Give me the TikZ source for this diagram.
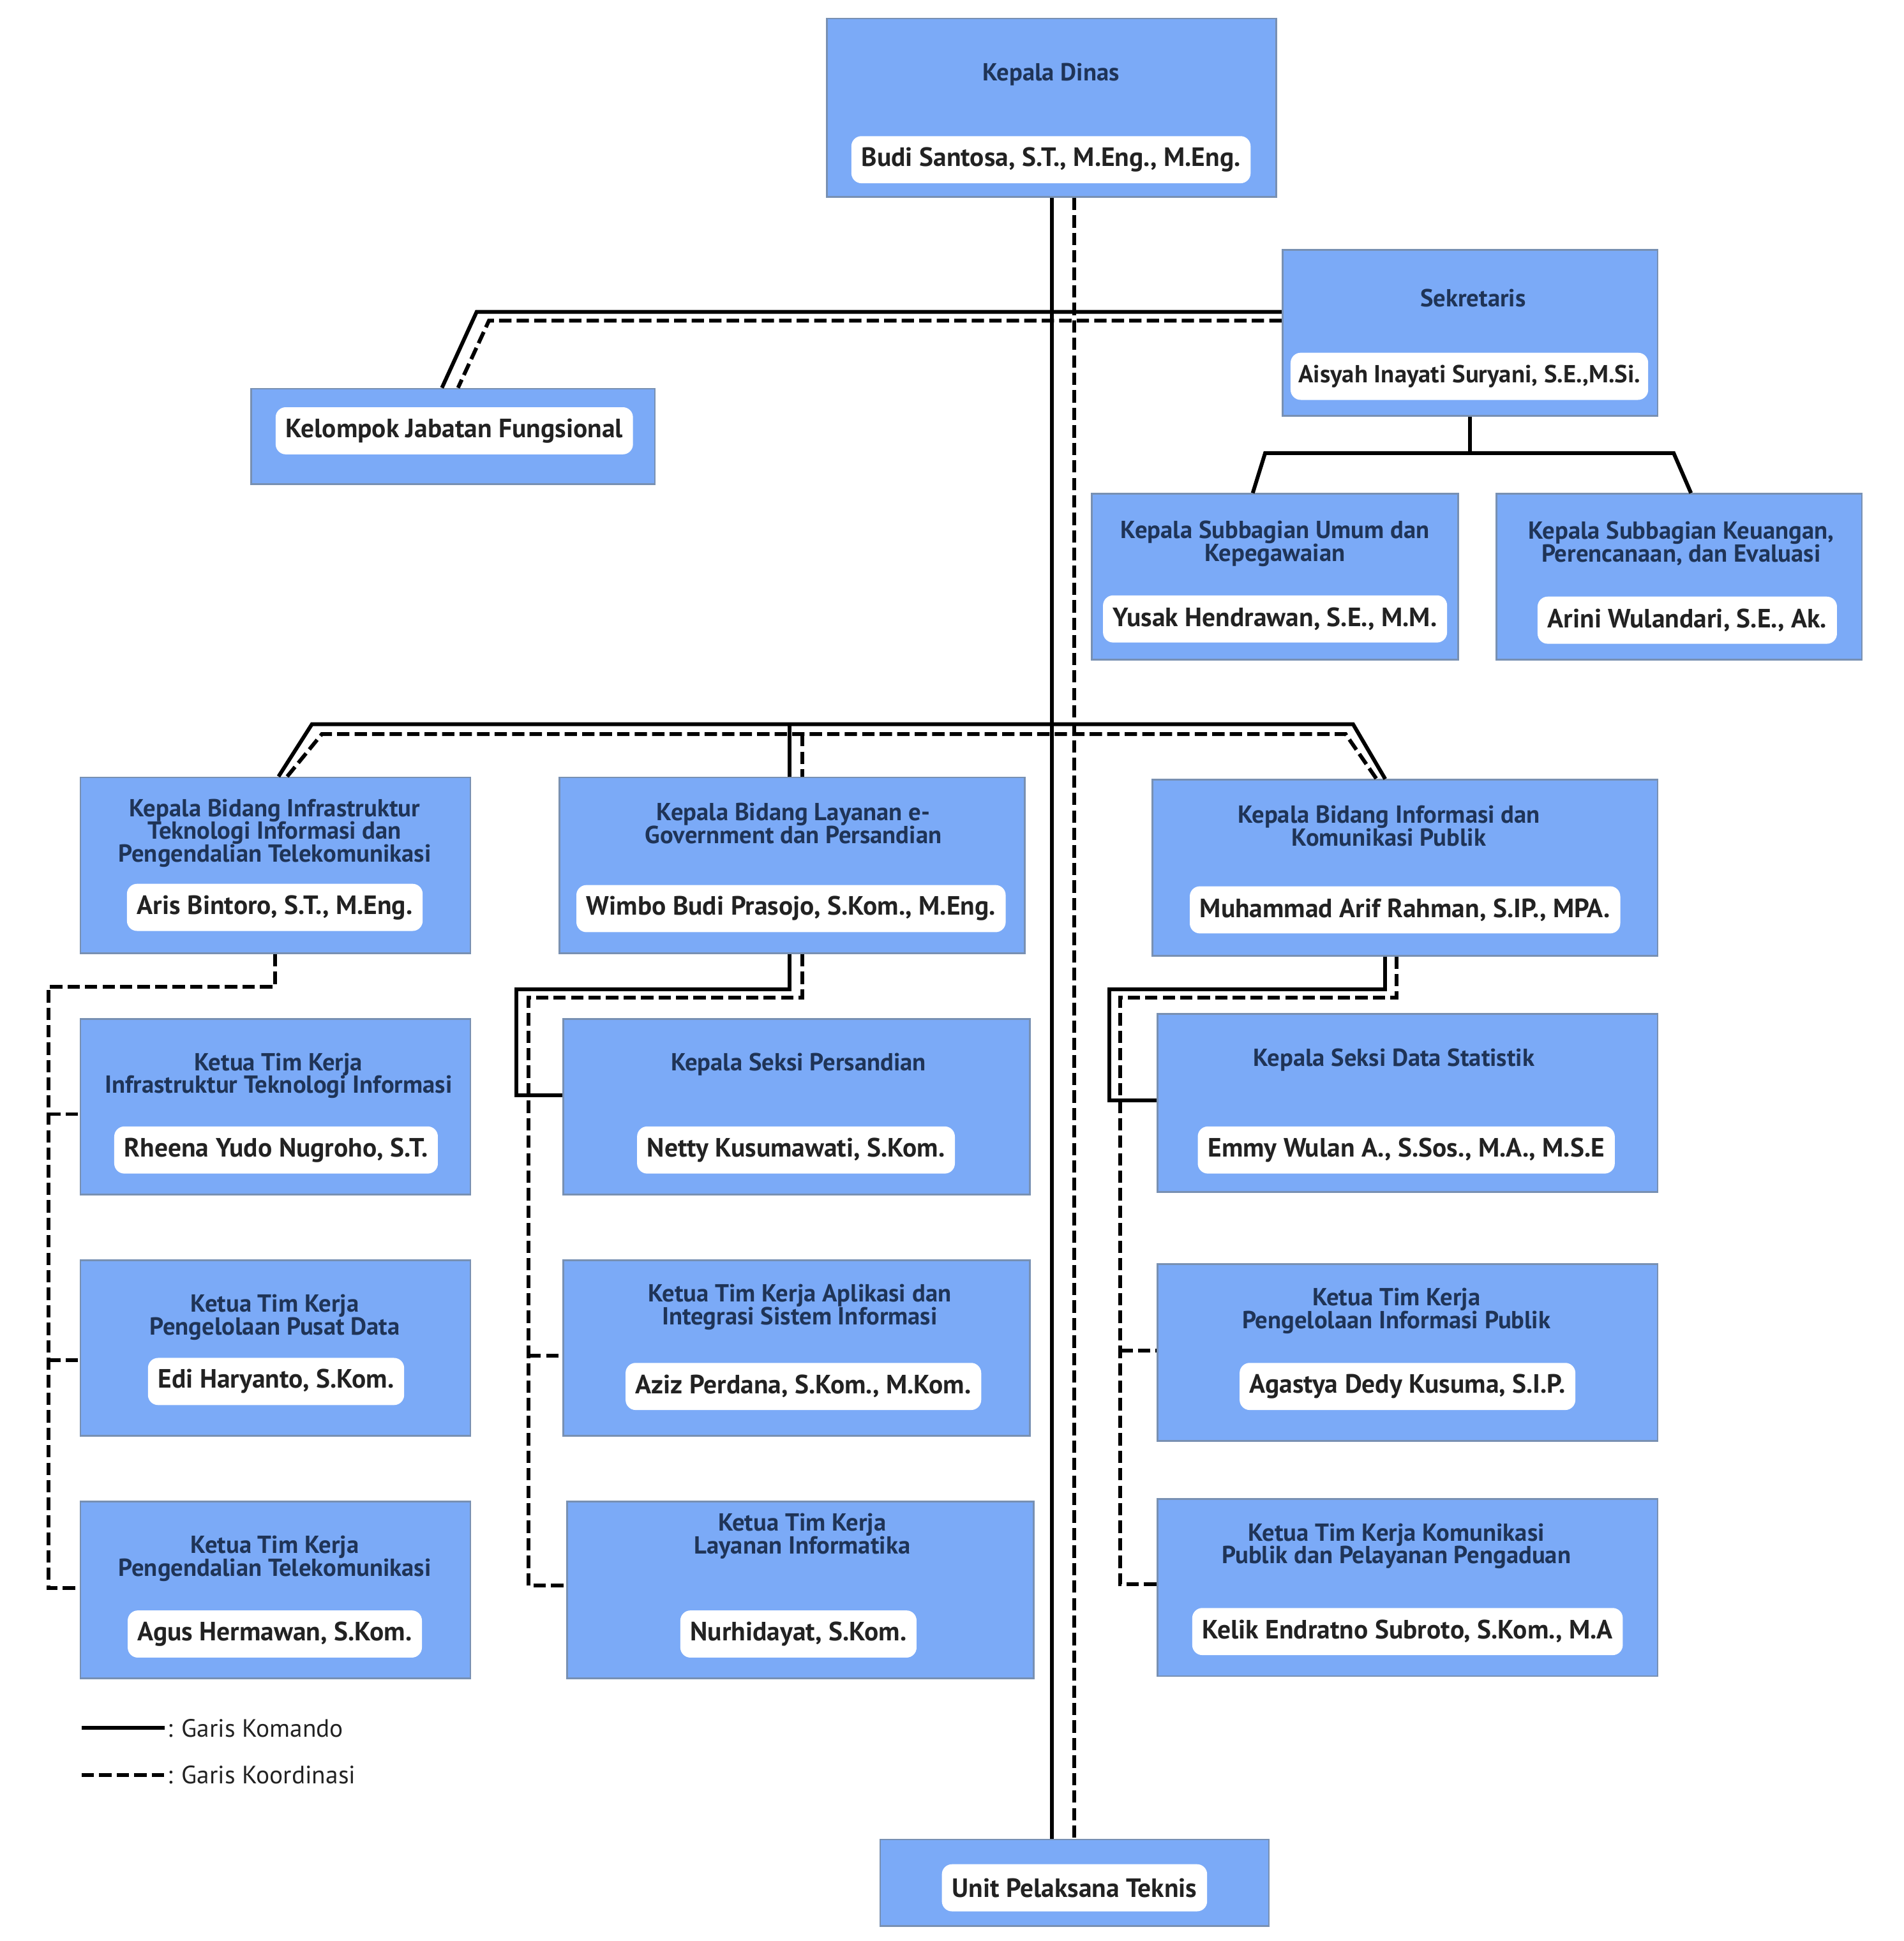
\documentclass[tikz,border=0pt]{standalone}
\usepackage{fontspec}
\setmainfont{PT Sans}
\usepackage{tikz}
\usetikzlibrary{positioning, fit}
\definecolor{kotak}{HTML}{7BAAF7}
\definecolor{tepi}{HTML}{7890B2}
\definecolor{judul}{HTML}{1F3457}
\definecolor{nama}{HTML}{222222}

\begin{document}
\begin{tikzpicture}[x=0.1939mm, y=-0.1939mm,
        kotakjab/.style={draw=tepi, line width=0.8pt, fill=kotak, inner sep=0pt},
        judulteks/.style={text=judul, font=\fontsize{11}{10.2}\selectfont\bfseries, align=center, inner sep=0pt},
        namateks/.style={fill=white, rounded corners=4.5pt, text=nama, font=\fontsize{11.8}{13}\selectfont\bfseries, inner xsep=4.5pt, minimum height=21pt},
        ketlegenda/.style={text=nama, font=\fontsize{11.2}{12}\selectfont, inner sep=1pt},
        komando/.style={line width=1.7pt},
        koordinasi/.style={line width=1.7pt, dash pattern=on 5.5pt off 2.3pt}]
        \useasboundingbox (0,0) rectangle (1538,1568);

        % kotak jabatan
        \node[kotakjab, fit={(668,15) (1031,159)}] (kd) {};
        \node[kotakjab, fit={(1036,202) (1339,336)}] (sek) {};
        \node[kotakjab, fit={(203,314) (529,391)}] (kjf) {};
        \node[kotakjab, fit={(882,399) (1178,533)}] (subUmum) {};
        \node[kotakjab, fit={(1209,399) (1504,533)}] (subKeu) {};
        \node[kotakjab, fit={(65,628) (380,770)}] (bidInfra) {};
        \node[kotakjab, fit={(452,628) (828,770)}] (bidLayanan) {};
        \node[kotakjab, fit={(931,630) (1339,772)}] (bidIkp) {};
        \node[kotakjab, fit={(65,823) (380,965)}] (timInfra) {};
        \node[kotakjab, fit={(455,823) (832,965)}] (seksiSandi) {};
        \node[kotakjab, fit={(935,819) (1339,963)}] (seksiStat) {};
        \node[kotakjab, fit={(65,1018) (380,1160)}] (timPusat) {};
        \node[kotakjab, fit={(455,1018) (832,1160)}] (timApl) {};
        \node[kotakjab, fit={(935,1021) (1339,1164)}] (timIkp) {};
        \node[kotakjab, fit={(65,1213) (380,1356)}] (timTelko) {};
        \node[kotakjab, fit={(458,1213) (835,1356)}] (timLayanan) {};
        \node[kotakjab, fit={(935,1211) (1339,1354)}] (timKom) {};
        \node[kotakjab, fit={(711,1486) (1025,1556)}] (upt) {};

        % judul jabatan
        \node[judulteks] (kdJ) at (849,60) {Kepala Dinas};
        \node[judulteks] (sekJ) at (1190,241) {Sekretaris};
        \node[judulteks] (subUmumJ) at (1030,439) {Kepala Subbagian Umum dan\\Kepegawaian};
        \node[judulteks] (subKeuJ) at (1358,439) {Kepala Subbagian Keuangan,\\Perencanaan, dan Evaluasi};
        \node[judulteks] (bidInfraJ) at (222,673) {Kepala Bidang Infrastruktur\\Teknologi Informasi dan\\Pengendalian Telekomunikasi};
        \node[judulteks] (bidLayananJ) at (641,665) {Kepala Bidang Layanan e-\\Government dan Persandian};
        \node[judulteks] (bidIkpJ) at (1122,667) {Kepala Bidang Informasi dan\\Komunikasi Publik};
        \node[judulteks] (timInfraJ) at (225,869) {Ketua Tim Kerja\\Infrastruktur Teknologi Informasi};
        \node[judulteks] (seksiSandiJ) at (645,860) {Kepala Seksi Persandian};
        \node[judulteks] (seksiStatJ) at (1126,856) {Kepala Seksi Data Statistik};
        \node[judulteks] (timPusatJ) at (222,1064) {Ketua Tim Kerja\\Pengelolaan Pusat Data};
        \node[judulteks] (timAplJ) at (646,1056) {Ketua Tim Kerja Aplikasi dan\\Integrasi Sistem Informasi};
        \node[judulteks] (timIkpJ) at (1128,1059) {Ketua Tim Kerja\\Pengelolaan Informasi Publik};
        \node[judulteks] (timTelkoJ) at (222,1259) {Ketua Tim Kerja\\Pengendalian Telekomunikasi};
        \node[judulteks] (timLayananJ) at (648,1241) {Ketua Tim Kerja\\Layanan Informatika};
        \node[judulteks] (timKomJ) at (1128,1249) {Ketua Tim Kerja Komunikasi\\Publik dan Pelayanan Pengaduan};

        % nama pejabat
        \node[namateks] (kdN) at (849,129) {Budi Santosa, S.T., M.Eng., M.Eng.};
        \node[namateks, font=\fontsize{11}{13}\selectfont\bfseries, inner xsep=3.5pt] (sekN) at (1187,304) {Aisyah Inayati Suryani, S.E.,M.Si.};
        \node[namateks] (kjfN) at (367,348) {Kelompok Jabatan Fungsional};
        \node[namateks] (subUmumN) at (1030,500) {Yusak Hendrawan, S.E., M.M.};
        \node[namateks] (subKeuN) at (1363,501) {Arini Wulandari, S.E., Ak.};
        \node[namateks] (bidInfraN) at (222,733) {Aris Bintoro, S.T., M.Eng.};
        \node[namateks] (bidLayananN) at (639,734) {Wimbo Budi Prasojo, S.Kom., M.Eng.};
        \node[namateks] (bidIkpN) at (1135,735) {Muhammad Arif Rahman, S.IP., MPA.};
        \node[namateks] (timInfraN) at (223,929) {Rheena Yudo Nugroho, S.T.};
        \node[namateks] (seksiSandiN) at (643,929) {Netty Kusumawati, S.Kom.};
        \node[namateks] (seksiStatN) at (1136,929) {Emmy Wulan A., S.Sos., M.A., M.S.E};
        \node[namateks] (timPusatN) at (223,1116) {Edi Haryanto, S.Kom.};
        \node[namateks] (timAplN) at (649,1120) {Aziz Perdana, S.Kom., M.Kom.};
        \node[namateks] (timIkpN) at (1137,1120) {Agastya Dedy Kusuma, S.I.P.};
        \node[namateks] (timTelkoN) at (222,1320) {Agus Hermawan, S.Kom.};
        \node[namateks] (timLayananN) at (645,1320) {Nurhidayat, S.Kom.};
        \node[namateks] (timKomN) at (1137,1318) {Kelik Endratno Subroto, S.Kom., M.A};
        \node[namateks] (uptN) at (868,1525) {Unit Pelaksana Teknis};

        % garis komando
        \draw[komando] (kd.south) -- (kd.south |- upt.north);
        \draw[komando] (sek.west |- 0,252) -- (385,252) -- (357,0 |- kjf.north);
        \draw[komando] (sek.south) -- (sek.south |- 0,366);
        \draw[komando] (1012,0 |- subUmum.north) -- (1022,366) -- (1352,366) -- (1366,0 |- subKeu.north);
        \draw[komando] (225,0 |- bidInfra.north) -- (252,585) -- (1093,585) -- (1119,0 |- bidIkp.north);
        \draw[komando] (638,585) -- (638,0 |- bidLayanan.north);
        \draw[komando] (638,0 |- bidLayanan.south) -- (638,799) -- (417,799) -- (417,885) -- (seksiSandi.west |- 0,885);
        \draw[komando] (1119,0 |- bidIkp.south) -- (1119,799) -- (896,799) -- (896,889) -- (seksiStat.west |- 0,889);

        % garis koordinasi
        \draw[koordinasi] (upt.north |- kd.south) -- (upt.north);
        \draw[koordinasi] (sek.west |- 0,259) -- (395,259) -- (370,0 |- kjf.north);
        \draw[koordinasi] (232,0 |- bidInfra.north) -- (260,593) -- (1087,593) -- (1112,0 |- bidIkp.north);
        \draw[koordinasi] (648,593) -- (648,0 |- bidLayanan.north);
        \draw[koordinasi] (222,0 |- bidInfra.south) -- (222,797) -- (39,797) -- (39,1283) -- (timTelko.west |- 0,1283);
        \draw[koordinasi] (39,900) -- (timInfra.west |- 0,900);
        \draw[koordinasi] (39,1099) -- (timPusat.west |- 0,1099);
        \draw[koordinasi] (648,0 |- bidLayanan.south) -- (648,806) -- (427,806) -- (427,1281) -- (timLayanan.west |- 0,1281);
        \draw[koordinasi] (427,1095) -- (timApl.west |- 0,1095);
        \draw[koordinasi] (1128,0 |- bidIkp.south) -- (1128,806) -- (905,806) -- (905,1280) -- (timKom.west |- 0,1280);
        \draw[koordinasi] (905,1091) -- (timIkp.west |- 0,1091);

        % keterangan
        \node[ketlegenda, anchor=west] (lgKom) at (133,1396) {: Garis Komando};
        \node[ketlegenda, anchor=west] (lgKoor) at (133,1434) {: Garis Koordinasi};
        \draw[komando] (66,1396) -- (lgKom.west);
        \draw[koordinasi] (66,1434) -- (lgKoor.west);

    \end{tikzpicture}
\end{document}
